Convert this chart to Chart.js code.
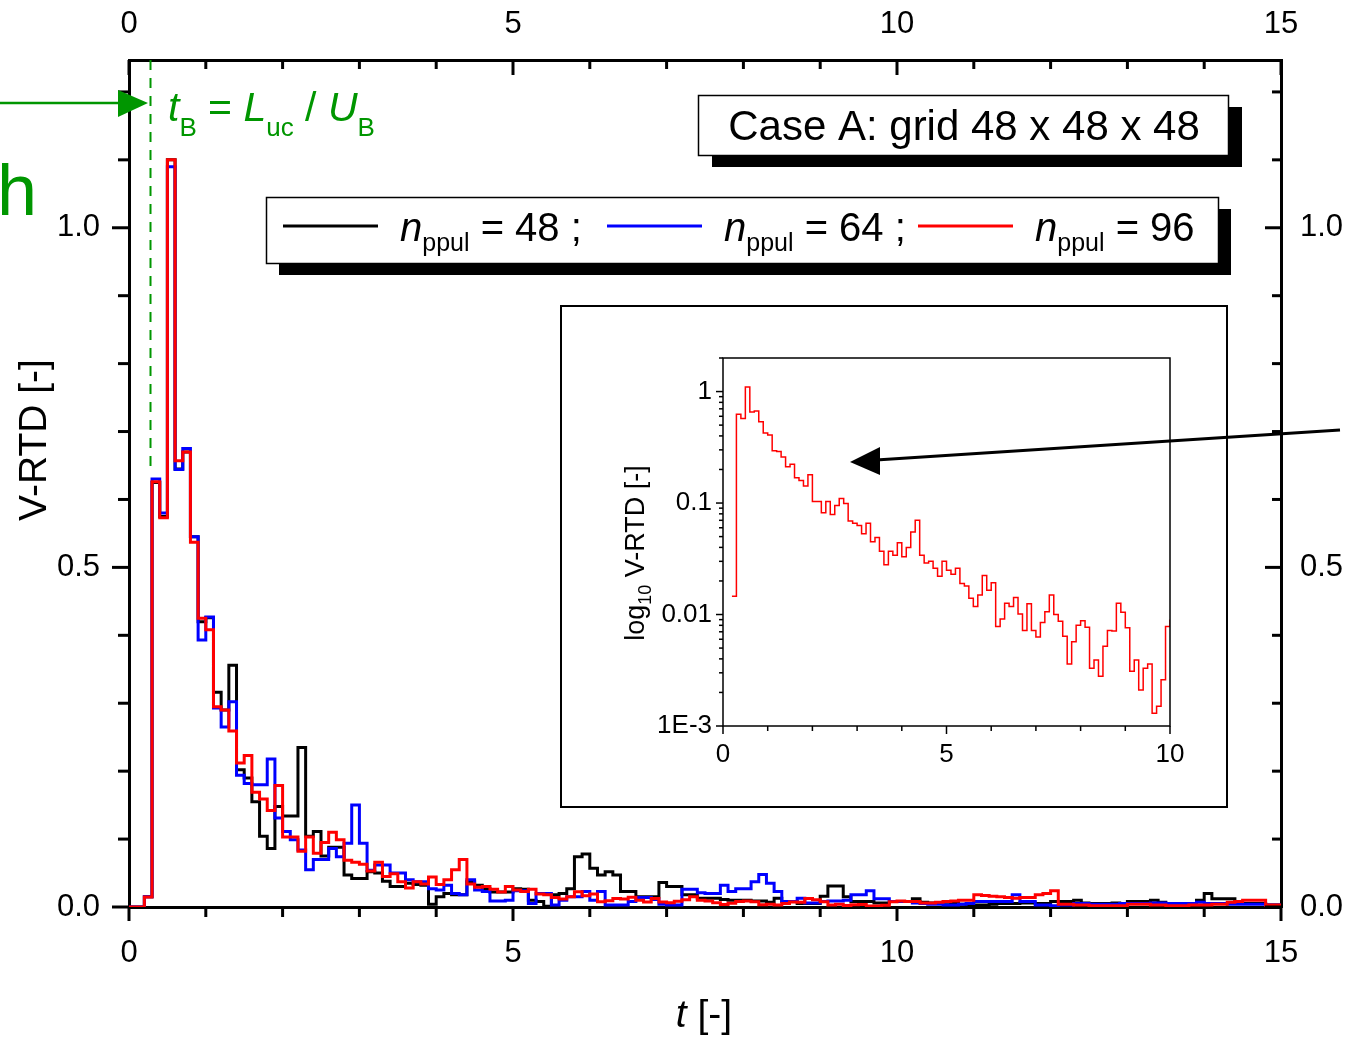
<!DOCTYPE html>
<html>
<head>
<meta charset="utf-8">
<title>V-RTD, Case A</title>
<script src="https://cdn.jsdelivr.net/npm/chart.js@4.4.1/dist/chart.umd.min.js"></script>
<style>
  html, body { margin: 0; padding: 0; background: #fff; overflow: hidden; }
  #wrap { position: relative; width: 1352px; height: 1037px; }
  #main { position: absolute; left: 0; top: 0; }
  #inset { position: absolute; left: 560px; top: 305px; }
</style>
</head>
<body>
<div id="wrap">
  <canvas id="main" width="1352" height="1037"></canvas>
  <canvas id="inset" width="668" height="503"></canvas>
</div>
<script>
// ---- data ---------------------------------------------------------------
// Histogram bins of width BIN_WIDTH starting at t = 0 (one value per bin).
const BIN_WIDTH = 0.1;
const T_END = 15;
const T_B = 0.28;          // t_B = L_uc / U_B
const T_B_LEVEL = 0.64;    // dashed marker drawn down to this V-RTD level

const rtd48 = [
  0, 0, 0.015, 0.625, 0.575, 1.10, 0.645, 0.67, 0.545, 0.42,
  0.426, 0.316, 0.29, 0.356, 0.202, 0.19, 0.155, 0.104, 0.086, 0.148,
  0.134, 0.134, 0.235, 0.104, 0.111, 0.075, 0.088, 0.088, 0.047, 0.042,
  0.042, 0.052, 0.05, 0.038, 0.03, 0.03, 0.035, 0.033, 0.032, 0.004,
  0.015, 0.02, 0.018, 0.018, 0.037, 0.032, 0.027, 0.022, 0.022, 0.022,
  0.027, 0.026, 0.01, 0.008, 0.001, 0.018, 0.02, 0.027, 0.074, 0.078,
  0.057, 0.047, 0.052, 0.047, 0.023, 0.023, 0.015, 0.015, 0.015, 0.036,
  0.03, 0.03, 0.018, 0.018, 0.013, 0.013, 0.013, 0.011, 0.01, 0.01,
  0.01, 0.009, 0.009, 0.007, 0.013, 0.008, 0.008, 0.005, 0.005, 0.005,
  0.016, 0.031, 0.031, 0.015, 0.008, 0.008, 0.008, 0.006, 0.006, 0.008,
  0.008, 0.008, 0.012, 0.007, 0.006, 0.006, 0.007, 0.006, 0.004, 0.003,
  0.003, 0.003, 0.004, 0.005, 0.005, 0.005, 0.006, 0.006, 0.005, 0.005,
  0.008, 0.008, 0.008, 0.010, 0.006, 0.005, 0.005, 0.005, 0.006, 0.005,
  0.008, 0.008, 0.008, 0.010, 0.007, 0.005, 0.005, 0.005, 0.005, 0.010,
  0.020, 0.012, 0.012, 0.012, 0.008, 0.005, 0.005, 0.005, 0.003, 0.003
];

const rtd64 = [
  0, 0, 0.015, 0.63, 0.58, 1.09, 0.644, 0.675, 0.545, 0.393,
  0.427, 0.293, 0.265, 0.302, 0.194, 0.182, 0.18, 0.18, 0.218, 0.131,
  0.111, 0.099, 0.084, 0.055, 0.070, 0.070, 0.086, 0.074, 0.094, 0.150,
  0.094, 0.054, 0.062, 0.062, 0.05, 0.05, 0.04, 0.037, 0.037, 0.027,
  0.025, 0.032, 0.02, 0.018, 0.04, 0.025, 0.023, 0.009, 0.009, 0.01,
  0.024, 0.024, 0.005, 0.02, 0.02, 0.003, 0.01, 0.015, 0.015, 0.023,
  0.01, 0.023, 0.003, 0.003, 0.003, 0.008, 0.014, 0.014, 0.011, 0.004,
  0.003, 0.003, 0.026, 0.026, 0.021, 0.020, 0.020, 0.032, 0.023, 0.027,
  0.027, 0.037, 0.048, 0.035, 0.023, 0.008, 0.008, 0.013, 0.006, 0.006,
  0.008, 0.009, 0.009, 0.010, 0.018, 0.018, 0.024, 0.012, 0.012, 0.008,
  0.008, 0.008, 0.006, 0.005, 0.004, 0.004, 0.003, 0.003, 0.004, 0.005,
  0.008, 0.008, 0.008, 0.008, 0.008, 0.018, 0.008, 0.008, 0.003, 0.003,
  0.002, 0.003, 0.003, 0.005, 0.005, 0.004, 0.004, 0.004, 0.004, 0.005,
  0.005, 0.005, 0.005, 0.006, 0.006, 0.005, 0.005, 0.005, 0.005, 0.007,
  0.005, 0.005, 0.005, 0.004, 0.004, 0.004, 0.004, 0.004, 0.003, 0.003
];

const rtd96 = [
  0, 0, 0.0146, 0.626, 0.573, 1.10, 0.657, 0.67, 0.537, 0.425,
  0.408, 0.295, 0.29, 0.259, 0.212, 0.223, 0.169, 0.159, 0.142, 0.179,
  0.103, 0.103, 0.082, 0.103, 0.079, 0.095, 0.110, 0.099, 0.069, 0.066,
  0.063, 0.053, 0.066, 0.045, 0.049, 0.037, 0.028, 0.037, 0.034, 0.044,
  0.033, 0.040, 0.055, 0.070, 0.034, 0.029, 0.030, 0.026, 0.022, 0.030,
  0.025, 0.023, 0.026, 0.019, 0.018, 0.014, 0.0118, 0.0150, 0.0224, 0.0165,
  0.0193, 0.0078, 0.0091, 0.0126, 0.0118, 0.0142, 0.0101, 0.0072, 0.0125, 0.0072,
  0.0063, 0.0085, 0.0106, 0.0150, 0.0100, 0.0087, 0.0064, 0.0036, 0.0057, 0.0080,
  0.0088, 0.0077, 0.0033, 0.0039, 0.0028, 0.0052, 0.0072, 0.0071, 0.0126, 0.0105,
  0.0076, 0.0031, 0.0039, 0.0021, 0.0033, 0.0036, 0.0013, 0.0015, 0.0026, 0.0078,
  0.009, 0.008, 0.008, 0.006, 0.006, 0.007, 0.008, 0.009, 0.010, 0.010,
  0.018, 0.017, 0.016, 0.015, 0.014, 0.013, 0.014, 0.014, 0.018, 0.020,
  0.024, 0.004, 0.004, 0.003, 0.003, 0.002, 0.002, 0.002, 0.002, 0.002,
  0.004, 0.004, 0.004, 0.003, 0.003, 0.002, 0.002, 0.002, 0.003, 0.003,
  0.003, 0.004, 0.004, 0.007, 0.008, 0.010, 0.010, 0.010, 0.003, 0.003
];

const SERIES_NPPUL = ['48', '64', '96'];
const CASE_TITLE = 'Case A: grid 48 x 48 x 48';

const X_TICKS = [0, 5, 10, 15];
const Y_TICKS = [0, 0.5, 1.0];
const INSET_X_TICKS = [0, 5, 10];
const INSET_Y_TICKS = [0.001, 0.01, 0.1, 1];
const INSET_Y_LABELS = ['1E-3', '0.01', '0.1', '1'];

// ---- helpers ------------------------------------------------------------
const FONT = '"Liberation Sans", Arial, Helvetica, sans-serif';
const font = (size, style) => (style ? style + ' ' : '') + size + 'px ' + FONT;
const GREEN = 'rgb(0,150,0)';

// one point per bin start, plus a closing point at the last bin's end
function stepPoints(values, dropZero) {
  const pts = values.map((v, i) => ({
    x: Math.round(i * BIN_WIDTH * 1000) / 1000,
    y: (dropZero && v <= 0) ? null : v
  }));
  pts.push({ x: Math.round(values.length * BIN_WIDTH * 1000) / 1000, y: values[values.length - 1] });
  return pts;
}

function line(ctx, x1, y1, x2, y2) {
  ctx.beginPath(); ctx.moveTo(x1, y1); ctx.lineTo(x2, y2); ctx.stroke();
}

// draw a row of text runs [text, font, dy] starting at x, returns end x
function runs(ctx, x, y, parts) {
  for (const [text, f, dy] of parts) {
    ctx.font = f;
    ctx.fillText(text, x, y + (dy || 0));
    x += ctx.measureText(text).width;
  }
  return x;
}
function runsWidth(ctx, parts) {
  let w = 0;
  for (const [text, f] of parts) { ctx.font = f; w += ctx.measureText(text).width; }
  return w;
}

function fixedTicks(list) {
  return scale => { scale.ticks = list.map(v => ({ value: v })); };
}

// ---- main chart decorations ---------------------------------------------
const mainDecor = {
  id: 'mainDecor',
  afterDraw(chart) {
    const { ctx, chartArea: a, scales } = chart;
    const sx = scales.x, sy = scales.y;
    ctx.save();

    // tick marks: outward on left/bottom, inward on top/right
    ctx.strokeStyle = '#000';
    ctx.lineWidth = 3;
    for (let t = 0; t <= T_END; t++) {
      const px = sx.getPixelForValue(t);
      const major = t % 5 === 0;
      line(ctx, px, a.bottom, px, a.bottom + (major ? 14 : 10));
      line(ctx, px, a.top, px, a.top + (major ? 15 : 9));
    }
    for (let k = 0; k <= 12; k++) {
      const py = sy.getPixelForValue(k / 10);
      const major = k % 5 === 0;
      line(ctx, a.left - (major ? 17 : 11), py, a.left, py);
      line(ctx, a.right - (major ? 16 : 9), py, a.right, py);
    }

    // axis titles
    ctx.fillStyle = '#000';
    ctx.textBaseline = 'alphabetic';
    ctx.textAlign = 'left';
    const xt = [['t', font(39, 'italic')], [' [-]', font(39)]];
    runs(ctx, 704 - runsWidth(ctx, xt) / 2, 1027, xt);
    ctx.save();
    ctx.translate(46, 440);
    ctx.rotate(-Math.PI / 2);
    ctx.font = font(39);
    ctx.textAlign = 'center';
    ctx.fillText('V-RTD [-]', 0, 0);
    ctx.restore();

    // case box with drop shadow
    ctx.fillStyle = '#000';
    ctx.fillRect(712, 107, 530, 60);
    ctx.fillStyle = '#fff';
    ctx.fillRect(698, 95, 530, 60);
    ctx.lineWidth = 1.5;
    ctx.strokeStyle = '#000';
    ctx.strokeRect(698.5, 95.5, 530, 60);
    ctx.fillStyle = '#000';
    ctx.font = font(42);
    ctx.textAlign = 'center';
    ctx.fillText(CASE_TITLE, 964, 140);
    ctx.textAlign = 'left';

    // legend box with drop shadow
    ctx.fillStyle = '#000';
    ctx.fillRect(279, 209, 952, 66);
    ctx.fillStyle = '#fff';
    ctx.fillRect(266, 197, 952, 66);
    ctx.strokeRect(266.5, 197.5, 952, 66);
    const entryX = [283, 607, 918];
    chart.data.datasets.forEach((ds, i) => {
      const x0 = entryX[i];
      ctx.strokeStyle = ds.borderColor;
      ctx.lineWidth = 3;
      line(ctx, x0, 226, x0 + 95, 226);
      ctx.fillStyle = '#000';
      runs(ctx, x0 + 117, 241, [
        ['n', font(40, 'italic'), 0],
        ['ppul', font(25), 10],
        [' = ' + SERIES_NPPUL[i] + (i < 2 ? ' ;' : ''), font(40), 0]
      ]);
    });

    // t_B marker
    const xb = sx.getPixelForValue(T_B);
    ctx.strokeStyle = GREEN;
    ctx.lineWidth = 2;
    ctx.setLineDash([10, 8]);
    line(ctx, xb, a.top, xb, sy.getPixelForValue(T_B_LEVEL));
    ctx.setLineDash([]);
    ctx.lineWidth = 2.5;
    line(ctx, 0, 103, 122, 103);
    ctx.fillStyle = GREEN;
    ctx.beginPath();
    ctx.moveTo(148, 103); ctx.lineTo(118, 90); ctx.lineTo(118, 117); ctx.closePath();
    ctx.fill();
    runs(ctx, 168, 121, [
      ['t', font(41, 'italic'), 0],
      ['B', font(26), 15],
      [' = ', font(41), 0],
      ['L', font(41, 'italic'), 0],
      ['uc', font(26), 15],
      [' / ', font(41), 0],
      ['U', font(41, 'italic'), 0],
      ['B', font(26), 15]
    ]);
    ctx.font = font(72);
    ctx.fillText('h', -3, 215);

    // pointer into the inset
    ctx.strokeStyle = '#000';
    ctx.fillStyle = '#000';
    ctx.lineWidth = 3;
    line(ctx, 1340, 430, 876, 460);
    ctx.beginPath();
    ctx.moveTo(850, 462); ctx.lineTo(880, 447); ctx.lineTo(880, 475); ctx.closePath();
    ctx.fill();

    ctx.restore();
  }
};

const axisCommon = {
  type: 'linear',
  grid: { display: false, drawTicks: false },
  border: { display: true, width: 3, color: '#000' },
  ticks: { color: '#000', font: { family: FONT, size: 31 }, maxRotation: 0, autoSkip: false }
};

new Chart(document.getElementById('main'), {
  type: 'line',
  data: {
    datasets: [
      { label: 'n_ppul = 48', data: stepPoints(rtd48), borderColor: '#000000', order: 3 },
      { label: 'n_ppul = 64', data: stepPoints(rtd64), borderColor: '#0000ff', order: 2 },
      { label: 'n_ppul = 96', data: stepPoints(rtd96), borderColor: '#ff0000', order: 1 }
    ]
  },
  options: {
    responsive: false,
    devicePixelRatio: 1,
    animation: false,
    events: [],
    layout: { padding: 0 },
    elements: {
      line: { borderWidth: 3, stepped: 'before', tension: 0, fill: false, borderJoinStyle: 'miter', borderCapStyle: 'butt' },
      point: { radius: 0 }
    },
    plugins: { legend: { display: false }, tooltip: { enabled: false } },
    scales: {
      x: Object.assign({}, axisCommon, {
        position: 'bottom', min: 0, max: T_END,
        afterBuildTicks: fixedTicks(X_TICKS),
        afterFit: s => { s.height = 130; },
        ticks: Object.assign({}, axisCommon.ticks, { padding: 28, callback: v => String(v) })
      }),
      x2: Object.assign({}, axisCommon, {
        position: 'top', min: 0, max: T_END,
        afterBuildTicks: fixedTicks(X_TICKS),
        afterFit: s => { s.height = 60; },
        ticks: Object.assign({}, axisCommon.ticks, { padding: 17, callback: v => String(v) })
      }),
      y: Object.assign({}, axisCommon, {
        position: 'left', min: 0, max: 1.247,
        afterBuildTicks: fixedTicks(Y_TICKS),
        afterFit: s => { s.width = 129; },
        ticks: Object.assign({}, axisCommon.ticks, { padding: 29, callback: v => v.toFixed(1) })
      }),
      y2: Object.assign({}, axisCommon, {
        position: 'right', min: 0, max: 1.247,
        afterBuildTicks: fixedTicks(Y_TICKS),
        afterFit: s => { s.width = 71; },
        ticks: Object.assign({}, axisCommon.ticks, { padding: 19, callback: v => v.toFixed(1) })
      })
    }
  },
  plugins: [mainDecor]
});

// ---- inset: log10 V-RTD of the n_ppul = 96 run --------------------------
const insetDecor = {
  id: 'insetDecor',
  afterDraw(chart) {
    const { ctx, chartArea: a, scales, width, height } = chart;
    const sx = scales.x, sy = scales.y;
    ctx.save();
    ctx.strokeStyle = '#000';
    // outer frame
    ctx.lineWidth = 2;
    ctx.strokeRect(1, 1, width - 2, height - 2);
    // plot frame
    ctx.lineWidth = 1.5;
    ctx.strokeRect(a.left, a.top, a.right - a.left, a.bottom - a.top);
    // x ticks every 1, y ticks at decades and their multiples
    for (let t = 0; t <= 10; t++) {
      const px = sx.getPixelForValue(t);
      line(ctx, px, a.bottom, px, a.bottom + (t % 5 === 0 ? 8 : 5));
    }
    for (let d = -3; d <= 0; d++) {
      for (let m = 1; m <= 9; m++) {
        const v = m * Math.pow(10, d);
        if (v > sy.max) continue;
        const py = sy.getPixelForValue(v);
        line(ctx, a.left - (m === 1 ? 7 : 4), py, a.left, py);
      }
    }
    // y title: log10 V-RTD [-]
    ctx.fillStyle = '#000';
    ctx.translate(84, 248);
    ctx.rotate(-Math.PI / 2);
    const parts = [['log', font(27), 0], ['10', font(18), 7], [' V-RTD [-]', font(27), 0]];
    runs(ctx, -runsWidth(ctx, parts) / 2, 0, parts);
    ctx.restore();
  }
};

new Chart(document.getElementById('inset'), {
  type: 'line',
  data: {
    datasets: [
      { label: 'n_ppul = 96', data: stepPoints(rtd96, true), borderColor: '#ff0000', borderWidth: 1.5 }
    ]
  },
  options: {
    responsive: false,
    devicePixelRatio: 1,
    animation: false,
    events: [],
    layout: { padding: { top: 53, right: 58, left: 0, bottom: 0 } },
    elements: {
      line: { stepped: 'before', tension: 0, fill: false, borderJoinStyle: 'miter' },
      point: { radius: 0 }
    },
    plugins: { legend: { display: false }, tooltip: { enabled: false } },
    scales: {
      x: {
        type: 'linear', position: 'bottom', min: 0, max: 10,
        afterBuildTicks: fixedTicks(INSET_X_TICKS),
        afterFit: s => { s.height = 82; },
        grid: { display: false, drawTicks: false },
        border: { display: false },
        ticks: { color: '#000', font: { family: FONT, size: 26 }, padding: 13, maxRotation: 0, autoSkip: false, callback: v => String(v) }
      },
      y: {
        type: 'logarithmic', position: 'left', min: 0.001, max: 2,
        afterBuildTicks: fixedTicks(INSET_Y_TICKS),
        afterFit: s => { s.width = 163; },
        grid: { display: false, drawTicks: false },
        border: { display: false },
        ticks: { color: '#000', font: { family: FONT, size: 26 }, padding: 11, autoSkip: false,
                 callback: v => INSET_Y_LABELS[INSET_Y_TICKS.indexOf(v)] }
      }
    }
  },
  plugins: [insetDecor]
});
</script>
</body>
</html>
